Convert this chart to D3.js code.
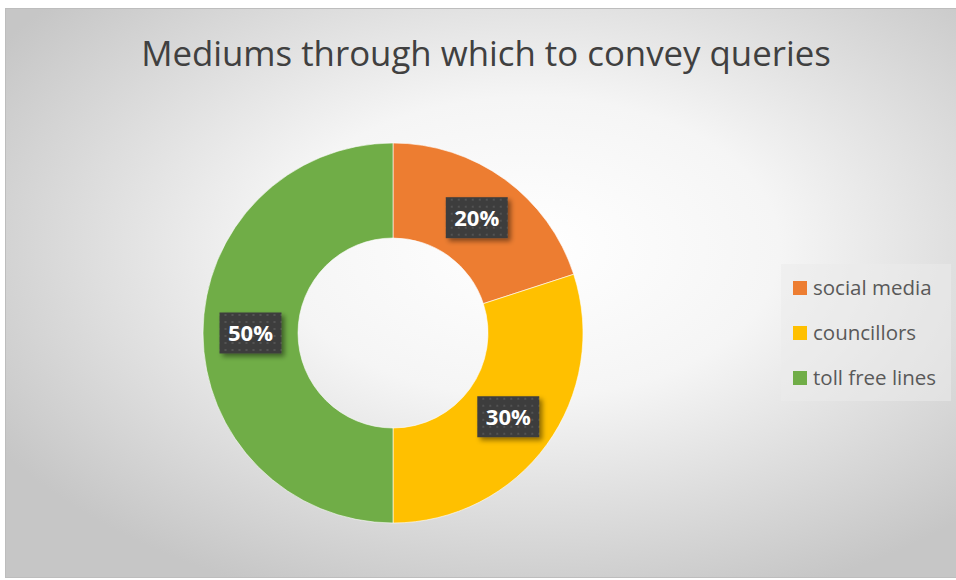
<!DOCTYPE html>
<html>
<head>
<meta charset="utf-8">
<script src="https://cdn.jsdelivr.net/npm/d3@7"></script>
<style>
  html, body { margin: 0; padding: 0; background: #ffffff; }
  svg { display: block; }
</style>
</head>
<body>
<div id="chart"></div>
<script>
// Share of queries by medium
const categories = ["social media", "councillors", "toll free lines"];
const values = [20, 30, 50];
const colors = ["#ED7D31", "#FFC000", "#70AD47"];
const title = "Mediums through which to convey queries";

const W = 956, H = 580;
const svg = d3.select("#chart").append("svg")
  .attr("width", W).attr("height", H);

const defs = svg.append("defs");

// soft radial backdrop
const bg = defs.append("radialGradient").attr("id", "bgGrad")
  .attr("cx", "55%").attr("cy", "42%").attr("r", "66%");
bg.append("stop").attr("offset", "0%").attr("stop-color", "#ffffff");
bg.append("stop").attr("offset", "40%").attr("stop-color", "#f5f5f5");
bg.append("stop").attr("offset", "100%").attr("stop-color", "#c6c6c6");

// dotted texture for the value boxes
const pat = defs.append("pattern").attr("id", "dots")
  .attr("patternUnits", "userSpaceOnUse").attr("width", 7).attr("height", 7);
pat.append("rect").attr("width", 7).attr("height", 7).attr("fill", "#3d3d3d");
pat.append("rect").attr("x", 2).attr("y", 2).attr("width", 2).attr("height", 2).attr("fill", "#525252");

const shadow = defs.append("filter").attr("id", "shadow")
  .attr("x", "-30%").attr("y", "-30%").attr("width", "170%").attr("height", "170%");
shadow.append("feDropShadow").attr("dx", 3).attr("dy", 3).attr("stdDeviation", 2.5)
  .attr("flood-color", "#000").attr("flood-opacity", 0.45);

// chart area
svg.append("rect")
  .attr("x", 5.5).attr("y", 8.5).attr("width", W - 5).attr("height", 569)
  .attr("fill", "url(#bgGrad)")
  .attr("stroke", "#bdbdbd").attr("stroke-width", 1);

svg.append("text")
  .attr("x", 486).attr("y", 66)
  .attr("text-anchor", "middle")
  .attr("font-family", "'Open Sans', sans-serif")
  .attr("font-size", 34.8)
  .attr("fill", "#404040")
  .text(title);

// donut
const cx = 393, cy = 333, R = 190, r = 95;
const pie = d3.pie().sort(null).value(d => d.value);
const data = categories.map((c, i) => ({ name: c, value: values[i], color: colors[i] }));
const arcs = pie(data);
const arc = d3.arc().innerRadius(r).outerRadius(R);
const total = d3.sum(values);

const g = svg.append("g").attr("transform", `translate(${cx},${cy})`);
g.selectAll("path.slice").data(arcs).enter().append("path")
  .attr("class", "slice")
  .attr("d", arc)
  .attr("fill", d => d.data.color)
  .attr("stroke", "#ffffff").attr("stroke-width", 0.6);

const labels = g.selectAll("g.lbl").data(arcs).enter().append("g")
  .attr("class", "lbl")
  .attr("transform", d => `translate(${arc.centroid(d)})`);
const bw = 62, bh = 41;
labels.append("rect")
  .attr("x", -bw / 2).attr("y", -bh / 2).attr("width", bw).attr("height", bh)
  .attr("fill", "url(#dots)")
  .attr("filter", "url(#shadow)");
labels.append("text")
  .attr("text-anchor", "middle").attr("dy", "0.36em")
  .attr("font-family", "'Open Sans', sans-serif")
  .attr("font-weight", 700).attr("font-size", 22)
  .attr("fill", "#ffffff")
  .text(d => d3.format(".0%")(d.data.value / total));

// legend
const leg = svg.append("g");
leg.append("rect")
  .attr("x", 781).attr("y", 264).attr("width", 170).attr("height", 137)
  .attr("fill", "#ebebeb").attr("opacity", 0.55);
const ly = d3.scalePoint().domain(categories).range([288, 378]);
const items = leg.selectAll("g.item").data(data).enter().append("g")
  .attr("class", "item")
  .attr("transform", d => `translate(793,${ly(d.name)})`);
items.append("rect")
  .attr("x", 0).attr("y", -7).attr("width", 14).attr("height", 14)
  .attr("fill", d => d.color);
items.append("text")
  .attr("x", 20).attr("dy", "0.35em")
  .attr("font-family", "'Open Sans', sans-serif")
  .attr("font-size", 20.5)
  .attr("fill", "#595959")
  .text(d => d.name);
</script>
</body>
</html>
